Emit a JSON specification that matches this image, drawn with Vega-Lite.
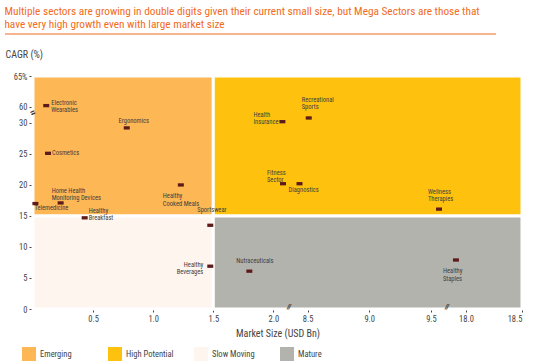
{
  "$schema": "https://vega.github.io/schema/vega-lite/v6.json",
  "background": "white",
  "padding": {"left": 4, "top": 5, "right": 0, "bottom": 0},
  "config": {
    "font": "Liberation Sans Narrow, Roboto Condensed, Lato, sans-serif",
    "view": {"stroke": null},
    "axis": {"grid": false, "domainColor": "#444", "tickColor": "#444", "labelColor": "#444", "titleColor": "#444", "labelFontSize": 8.5, "titleFontSize": 10, "titleFontWeight": "normal", "tickSize": 3, "labelPadding": 2, "labelOverlap": false}
  },
  "title": {
    "text": ["Multiple sectors are growing in double digits  given their current  small size, but Mega Sectors are those that", "have very high growth even with large market size"],
    "anchor": "start", "color": "#F26B21", "font": "Liberation Sans Narrow, Roboto Condensed, Lato, sans-serif", "fontSize": 11.3, "fontWeight": "normal", "lineHeight": 13, "offset": 3
  },
  "datasets": {
    "quadrants": [
      {"quadrant": "Emerging", "x0": 0, "x1": 1.5, "y0": 15, "y1": 65},
      {"quadrant": "High Potential", "x0": 1.5, "x1": 18.5, "y0": 15, "y1": 65},
      {"quadrant": "Slow Moving", "x0": 0, "x1": 1.5, "y0": 0, "y1": 15},
      {"quadrant": "Mature", "x0": 1.5, "x1": 18.5, "y0": 0, "y1": 15}
    ],
    "sectors": [
      {"sector": "Electronic Wearables", "label": "Electronic\nWearables", "size": 0.11, "cagr": 60.2},
      {"sector": "Cosmetics", "label": "Cosmetics", "size": 0.125, "cagr": 25.1},
      {"sector": "Ergonomics", "label": "Ergonomics", "size": 0.78, "cagr": 29.2},
      {"sector": "Home Health Monitoring Devices", "label": "Home Health\nMonitoring Devices", "size": 0.23, "cagr": 17.1},
      {"sector": "Telemedicine", "label": "Telemedicine", "size": 0.02, "cagr": 17.0},
      {"sector": "Healthy Breakfast", "label": "Healthy\nBreakfast", "size": 0.43, "cagr": 14.7},
      {"sector": "Healthy Cooked Meals", "label": "Healthy\nCooked Meals", "size": 1.23, "cagr": 20.0},
      {"sector": "Sportswear", "label": "Sportswear", "size": 1.475, "cagr": 13.5},
      {"sector": "Healthy Beverages", "label": "Healthy\nBeverages", "size": 1.475, "cagr": 6.9},
      {"sector": "Nutraceuticals", "label": "Nutraceuticals", "size": 1.8, "cagr": 6.1},
      {"sector": "Health Insurance", "label": "Health\nInsurance", "size": 2.075, "cagr": 30.2},
      {"sector": "Recreational Sports", "label": "Recreational\nSports", "size": 8.51, "cagr": 30.8},
      {"sector": "Fitness Sector", "label": "Fitness\nSector", "size": 2.08, "cagr": 20.2},
      {"sector": "Diagnostics", "label": "Diagnostics", "size": 8.435, "cagr": 20.2},
      {"sector": "Wellness Therapies", "label": "Wellness\nTherapies", "size": 9.565, "cagr": 16.1},
      {"sector": "Healthy Staples", "label": "Healthy\nStaples", "size": 17.91, "cagr": 7.9}
    ],
    "breaks": [
      {"axis": "x", "size": 2.13, "cagr": 0},
      {"axis": "x", "size": 9.63, "cagr": 0},
      {"axis": "y", "size": 0, "cagr": 31.6}
    ]
  },
  "spacing": 14,
  "vconcat": [
    {
      "width": 491,
      "height": 1,
      "data": {"values": [{"start": 0, "end": 1, "line": 0}]},
      "mark": {"type": "rule", "color": "#F26B21", "strokeWidth": 1.2},
      "encoding": {
        "x": {"field": "start", "type": "quantitative", "scale": {"domain": [0, 1], "range": [-28, 463], "nice": false}, "axis": null},
        "x2": {"field": "end"},
        "y": {"field": "line", "type": "quantitative", "scale": {"domain": [0, 1]}, "axis": null}
      }
    },
    {
      "width": 489,
      "height": 233,
      "encoding": {
        "x": {"type": "quantitative", "scale": {"domain": [0, 2.13, 8.35, 9.63, 17.83, 18.5], "range": [0, 256, 256, 414, 414, 489], "nice": false, "zero": false}},
        "y": {"type": "quantitative", "scale": {"domain": [0, 31.6, 59, 65], "range": [233, 37, 37, 0], "nice": false, "zero": false}}
      },
      "layer": [
        {
          "data": {"name": "quadrants"},
          "mark": {"type": "rect", "stroke": "white", "strokeWidth": 3},
          "encoding": {
            "x": {"field": "x0", "type": "quantitative", "axis": {"title": "Market Size (USD Bn)", "values": [0.5, 1.0, 1.5, 2.0, 8.5, 9.0, 9.5, 18.0, 18.5], "format": ".1f", "titlePadding": 6, "labelOverlap": false, "tickCount": 20}},
            "x2": {"field": "x1"},
            "y": {"field": "y0", "type": "quantitative", "axis": {"title": "CAGR (%)", "values": [0, 5, 10, 15, 20, 25, 30, 60, 65], "tickCount": 20, "labelExpr": "datum.value == 65 ? '65%' : datum.label", "labelOverlap": false, "titleAngle": 0, "titleAlign": "left", "titleBaseline": "middle", "titleX": -28, "titleY": -22, "tickSize": 4}},
            "y2": {"field": "y1"},
            "color": {
              "field": "quadrant", "type": "nominal",
              "scale": {"domain": ["Emerging", "High Potential", "Slow Moving", "Mature"], "range": ["#FDB754", "#FEC20E", "#FEF5EF", "#B3B3AD"]},
              "legend": {"title": null, "orient": "none", "legendX": -11, "legendY": 314, "direction": "horizontal", "columns": 4, "symbolType": "square", "symbolSize": 196, "symbolStrokeWidth": 0, "labelFontSize": 8.5, "labelColor": "#444", "labelOffset": 4, "columnPadding": 20, "gridAlign": "all", "padding": 0}
            }
          }
        },
        {
          "data": {"name": "sectors"},
          "mark": {"type": "point", "shape": "M-1,-0.55L1,-0.55L1,0.55L-1,0.55Z", "filled": true, "size": 36, "color": "#5C1A1B", "opacity": 1},
          "encoding": {"x": {"field": "size", "type": "quantitative"}, "y": {"field": "cagr", "type": "quantitative"}}
        },
        {"data": {"name": "sectors"}, "transform": [{"filter": {"field": "sector", "equal": "Electronic Wearables"}}], "mark": {"type": "text", "align": "left", "baseline": "middle", "dx": 5, "dy": -2.5, "fontSize": 6.5, "lineHeight": 7, "lineBreak": "\n", "color": "#404040"}, "encoding": {"x": {"field": "size", "type": "quantitative"}, "y": {"field": "cagr", "type": "quantitative"}, "text": {"field": "label"}}},
        {"data": {"name": "sectors"}, "transform": [{"filter": {"field": "sector", "equal": "Cosmetics"}}], "mark": {"type": "text", "align": "left", "baseline": "middle", "dx": 4, "dy": 0, "fontSize": 6.5, "lineHeight": 7, "lineBreak": "\n", "color": "#404040"}, "encoding": {"x": {"field": "size", "type": "quantitative"}, "y": {"field": "cagr", "type": "quantitative"}, "text": {"field": "label"}}},
        {"data": {"name": "sectors"}, "transform": [{"filter": {"field": "sector", "equal": "Ergonomics"}}], "mark": {"type": "text", "align": "center", "baseline": "middle", "dx": 7, "dy": -7, "fontSize": 6.5, "lineHeight": 7, "lineBreak": "\n", "color": "#404040"}, "encoding": {"x": {"field": "size", "type": "quantitative"}, "y": {"field": "cagr", "type": "quantitative"}, "text": {"field": "label"}}},
        {"data": {"name": "sectors"}, "transform": [{"filter": {"field": "sector", "equal": "Home Health Monitoring Devices"}}], "mark": {"type": "text", "align": "left", "baseline": "middle", "dx": -9, "dy": -12, "fontSize": 6.5, "lineHeight": 7, "lineBreak": "\n", "color": "#404040"}, "encoding": {"x": {"field": "size", "type": "quantitative"}, "y": {"field": "cagr", "type": "quantitative"}, "text": {"field": "label"}}},
        {"data": {"name": "sectors"}, "transform": [{"filter": {"field": "sector", "equal": "Telemedicine"}}], "mark": {"type": "text", "align": "left", "baseline": "middle", "dx": -1, "dy": 4.5, "fontSize": 6.5, "lineHeight": 7, "lineBreak": "\n", "color": "#404040"}, "encoding": {"x": {"field": "size", "type": "quantitative"}, "y": {"field": "cagr", "type": "quantitative"}, "text": {"field": "label"}}},
        {"data": {"name": "sectors"}, "transform": [{"filter": {"field": "sector", "equal": "Healthy Breakfast"}}], "mark": {"type": "text", "align": "left", "baseline": "middle", "dx": 4, "dy": -6.5, "fontSize": 6.5, "lineHeight": 7, "lineBreak": "\n", "color": "#404040"}, "encoding": {"x": {"field": "size", "type": "quantitative"}, "y": {"field": "cagr", "type": "quantitative"}, "text": {"field": "label"}}},
        {"data": {"name": "sectors"}, "transform": [{"filter": {"field": "sector", "equal": "Healthy Cooked Meals"}}], "mark": {"type": "text", "align": "left", "baseline": "middle", "dx": -18, "dy": 11, "fontSize": 6.5, "lineHeight": 8, "lineBreak": "\n", "color": "#404040"}, "encoding": {"x": {"field": "size", "type": "quantitative"}, "y": {"field": "cagr", "type": "quantitative"}, "text": {"field": "label"}}},
        {"data": {"name": "sectors"}, "transform": [{"filter": {"field": "sector", "equal": "Sportswear"}}], "mark": {"type": "text", "align": "left", "baseline": "middle", "dx": -13, "dy": -15, "fontSize": 6.5, "lineHeight": 7, "lineBreak": "\n", "color": "#404040"}, "encoding": {"x": {"field": "size", "type": "quantitative"}, "y": {"field": "cagr", "type": "quantitative"}, "text": {"field": "label"}}},
        {"data": {"name": "sectors"}, "transform": [{"filter": {"field": "sector", "equal": "Healthy Beverages"}}], "mark": {"type": "text", "align": "right", "baseline": "middle", "dx": -7, "dy": -1, "fontSize": 6.5, "lineHeight": 7, "lineBreak": "\n", "color": "#404040"}, "encoding": {"x": {"field": "size", "type": "quantitative"}, "y": {"field": "cagr", "type": "quantitative"}, "text": {"field": "label"}}},
        {"data": {"name": "sectors"}, "transform": [{"filter": {"field": "sector", "equal": "Nutraceuticals"}}], "mark": {"type": "text", "align": "left", "baseline": "middle", "dx": -13, "dy": -10, "fontSize": 6.5, "lineHeight": 7, "lineBreak": "\n", "color": "#404040"}, "encoding": {"x": {"field": "size", "type": "quantitative"}, "y": {"field": "cagr", "type": "quantitative"}, "text": {"field": "label"}}},
        {"data": {"name": "sectors"}, "transform": [{"filter": {"field": "sector", "equal": "Health Insurance"}}], "mark": {"type": "text", "align": "left", "baseline": "middle", "dx": -29, "dy": -7, "fontSize": 6.5, "lineHeight": 7, "lineBreak": "\n", "color": "#404040"}, "encoding": {"x": {"field": "size", "type": "quantitative"}, "y": {"field": "cagr", "type": "quantitative"}, "text": {"field": "label"}}},
        {"data": {"name": "sectors"}, "transform": [{"filter": {"field": "sector", "equal": "Recreational Sports"}}], "mark": {"type": "text", "align": "left", "baseline": "middle", "dx": -7, "dy": -18, "fontSize": 6.5, "lineHeight": 7, "lineBreak": "\n", "color": "#404040"}, "encoding": {"x": {"field": "size", "type": "quantitative"}, "y": {"field": "cagr", "type": "quantitative"}, "text": {"field": "label"}}},
        {"data": {"name": "sectors"}, "transform": [{"filter": {"field": "sector", "equal": "Fitness Sector"}}], "mark": {"type": "text", "align": "left", "baseline": "middle", "dx": -16, "dy": -11, "fontSize": 6.5, "lineHeight": 7, "lineBreak": "\n", "color": "#404040"}, "encoding": {"x": {"field": "size", "type": "quantitative"}, "y": {"field": "cagr", "type": "quantitative"}, "text": {"field": "label"}}},
        {"data": {"name": "sectors"}, "transform": [{"filter": {"field": "sector", "equal": "Diagnostics"}}], "mark": {"type": "text", "align": "left", "baseline": "middle", "dx": -11, "dy": 6, "fontSize": 6.5, "lineHeight": 7, "lineBreak": "\n", "color": "#404040"}, "encoding": {"x": {"field": "size", "type": "quantitative"}, "y": {"field": "cagr", "type": "quantitative"}, "text": {"field": "label"}}},
        {"data": {"name": "sectors"}, "transform": [{"filter": {"field": "sector", "equal": "Wellness Therapies"}}], "mark": {"type": "text", "align": "left", "baseline": "middle", "dx": -11, "dy": -17, "fontSize": 6.5, "lineHeight": 7, "lineBreak": "\n", "color": "#404040"}, "encoding": {"x": {"field": "size", "type": "quantitative"}, "y": {"field": "cagr", "type": "quantitative"}, "text": {"field": "label"}}},
        {"data": {"name": "sectors"}, "transform": [{"filter": {"field": "sector", "equal": "Healthy Staples"}}], "mark": {"type": "text", "align": "left", "baseline": "middle", "dx": -13, "dy": 11, "fontSize": 6.5, "lineHeight": 8, "lineBreak": "\n", "color": "#404040"}, "encoding": {"x": {"field": "size", "type": "quantitative"}, "y": {"field": "cagr", "type": "quantitative"}, "text": {"field": "label"}}},
        {"data": {"name": "breaks"}, "transform": [{"filter": {"field": "axis", "equal": "x"}}], "mark": {"type": "text", "text": "//", "align": "center", "baseline": "middle", "dy": -2, "fontSize": 8, "fontWeight": "bold", "fontStyle": "italic", "color": "#333", "clip": false}, "encoding": {"x": {"field": "size", "type": "quantitative"}, "y": {"field": "cagr", "type": "quantitative"}}},
        {"data": {"name": "breaks"}, "transform": [{"filter": {"field": "axis", "equal": "y"}}], "mark": {"type": "text", "text": "=", "align": "center", "baseline": "middle", "angle": -25, "fontSize": 11, "fontWeight": "bold", "color": "#333"}, "encoding": {"x": {"field": "size", "type": "quantitative"}, "y": {"field": "cagr", "type": "quantitative"}}}
      ]
    }
  ]
}
